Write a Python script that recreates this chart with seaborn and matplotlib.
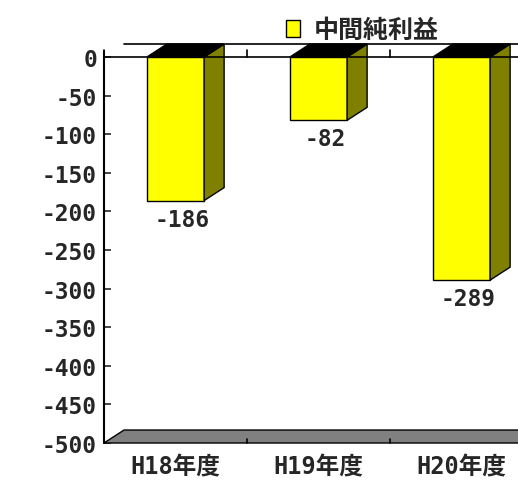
import matplotlib
matplotlib.use("Agg")
import matplotlib.pyplot as plt
from matplotlib.patches import Polygon, Patch
import pandas as pd
import seaborn as sns

# data
categories = ["H18年度", "H19年度", "H20年度"]
values = [-186, -82, -289]
series_name = "中間純利益"
y_ticks = list(range(0, -501, -50))

sns.set_theme(style="white")
FONT = ["DejaVu Sans Mono", "Noto Sans CJK JP"]
plt.rcParams["font.family"] = FONT
plt.rcParams["font.weight"] = "bold"

df = pd.DataFrame({"cat": categories, "val": values})

fig = plt.figure(figsize=(5.18, 4.81), dpi=100)
ax = fig.add_axes([104 / 518, 37 / 481, 429 / 518, 386 / 481])

sns.barplot(data=df, x="cat", y="val", color="#ffff00", edgecolor="black",
            linewidth=1, width=0.4, saturation=1, ax=ax, zorder=3)

ymin, ymax = -500, 0
dx, dy = 0.14, 16.8  # fake 3d depth

# floor
ax.add_patch(Polygon([(-0.5, ymin), (2.5, ymin), (2.5 + dx, ymin + dy),
                      (-0.5 + dx, ymin + dy)], closed=True, facecolor="#808080",
                     edgecolor="black", lw=1, clip_on=False, zorder=1))

# side and top faces from seaborn's bars
for bar, v in zip(ax.patches[:len(values)], values):
    x0 = bar.get_x()
    x1 = x0 + bar.get_width()
    ax.add_patch(Polygon([(x1, 0), (x1, v), (x1 + dx, v + dy), (x1 + dx, dy)],
                         closed=True, facecolor="#808000", edgecolor="black",
                         lw=1, clip_on=False, zorder=3))
    ax.add_patch(Polygon([(x0, 0), (x1, 0), (x1 + dx, dy), (x0 + dx, dy)],
                         closed=True, facecolor="black", edgecolor="black",
                         lw=1, clip_on=False, zorder=3))
    ax.annotate(f"{v}", (x0 + bar.get_width() / 2 + dx / 2, v),
                xytext=(-3, -7), textcoords="offset pixels", ha="center",
                va="top", fontsize=16.5, fontweight="bold", family=FONT)

# zero line, back line and boundary ticks
ax.plot([-0.5, 2.5], [0, 0], color="black", lw=1.2, clip_on=False, zorder=4)
ax.plot([-0.5 + dx, 2.5 + dx], [dy, dy], color="black", lw=1.2,
        clip_on=False, zorder=2)
for b in [-0.5, 0.5, 1.5]:
    ax.plot([b, b], [0, 9], color="black", lw=1.2, clip_on=False, zorder=4)
    ax.plot([b, b], [ymin, ymin + 5], color="black", lw=1.2, clip_on=False,
            zorder=4)
ax.plot([-0.5, -0.5], [ymin, 8], color="black", lw=1.5, clip_on=False, zorder=5)

ax.set_xlim(-0.5, 2.5)
ax.set_ylim(ymin, ymax)
ax.set_yticks(y_ticks)
ax.set_yticklabels([str(t) for t in y_ticks])
ax.tick_params(axis="y", direction="in", length=5, width=1.2, pad=5,
               labelsize=16.5, left=True)
ax.tick_params(axis="x", length=0, pad=8, labelsize=17)
for lab in ax.get_xticklabels() + ax.get_yticklabels():
    lab.set_fontweight("bold")
ax.set_xlabel("")
ax.set_ylabel("")
for s in ax.spines.values():
    s.set_visible(False)
ax.set_facecolor("none")

ax.legend(handles=[Patch(facecolor="#ffff00", edgecolor="black", label=series_name)],
          loc="center", bbox_to_anchor=(362 / 518, 1 - 31 / 481),
          bbox_transform=fig.transFigure, frameon=False, handlelength=0.55,
          handleheight=0.65, handletextpad=0.55,
          prop={"size": 18, "weight": "bold", "family": FONT})

fig.savefig("out.png", dpi=100)
